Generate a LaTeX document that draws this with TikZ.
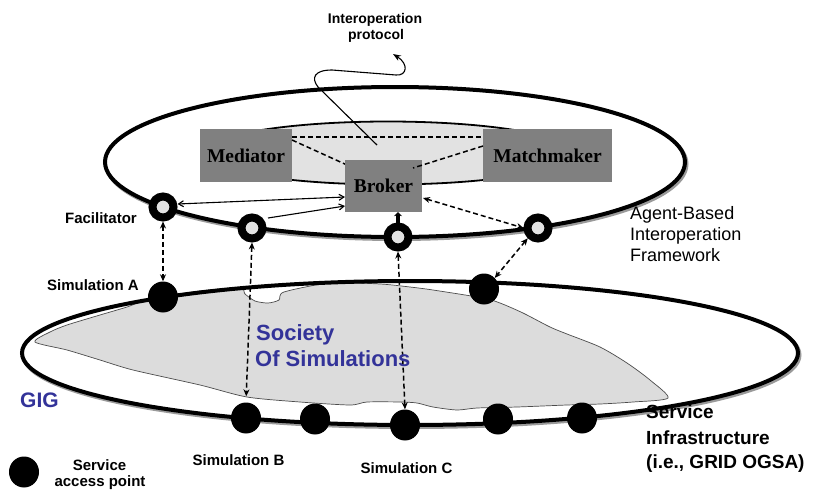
\documentclass[tikz,border=0pt]{standalone}
\usepackage{fontspec}
\newfontfamily\sansA{Liberation Sans}
\newfontfamily\serifT{Liberation Serif}
\usetikzlibrary{arrows.meta,shapes.geometric}
\definecolor{boxgray}{HTML}{808080}
\definecolor{lightfill}{HTML}{E2E2E2}
\definecolor{blobfill}{HTML}{DCDCDC}
\definecolor{socblue}{HTML}{333399}
\definecolor{shadowgray}{HTML}{9A9A9A}
\tikzset{
  agentbox/.style={fill=boxgray, inner sep=0pt, font=\serifT\bfseries\fontsize{19.5}{22}\selectfont},
  ring/.style={circle, draw=black, line width=8pt, fill=lightfill, minimum size=21pt, inner sep=0pt},
  sap/.style={ellipse, fill=black, minimum width=30pt, minimum height=31pt, inner sep=0pt},
  thicklip/.style={line width=4pt, draw=black},
  shadowlip/.style={line width=4pt, draw=shadowgray},
  dasharrow/.style={line width=1.5pt, dash pattern=on 5pt off 3pt, {Stealth[length=7pt,width=6pt]}-{Stealth[length=7pt,width=6pt]}},
  thinarrow/.style={line width=1.1pt},
  lbl/.style={font=\sansA\bfseries\fontsize{15}{17}\selectfont, inner sep=0pt},
  biglbl/.style={font=\sansA\fontsize{18}{21}\selectfont, inner sep=0pt},
  infra/.style={font=\sansA\bfseries\fontsize{19}{22}\selectfont, inner sep=0pt},
  soc/.style={font=\sansA\bfseries\fontsize{22}{26}\selectfont, text=socblue, inner sep=0pt},
  blob/.style={fill=blobfill, draw=black!70, line width=0.7pt}
}
\begin{document}
\begin{tikzpicture}[x=1pt,y=-1pt]
\useasboundingbox[fill=white] (0,0) rectangle (817,493);

% ---------- lower ellipse (service infrastructure) ----------
\draw[shadowlip] (411.5,355) ellipse [x radius=388, y radius=72];
\fill[white] (410,353) ellipse [x radius=388, y radius=72];
\draw[blob] plot[smooth cycle, tension=0.45] coordinates {
  (35,342) (50,332) (67,325) (100,315) (127,307) (150,299) (200,291) (240,288)
  (245,294) (255,301) (268,303) (279,300) (284,292) (330,283) (380,284)
  (410,287) (433,290) (483,298) (500,303) (523,313) (550,327) (567,334)
  (600,347) (627,363) (650,380) (668,398)
  (633,402) (600,404) (567,405) (517,407) (477,408) (457,410) (433,407)
  (417,403) (400,402) (367,402) (350,405) (300,402) (247,397) (200,385)
  (133,370) (100,360) (67,350)};
\draw[thicklip] (410,353) ellipse [x radius=388, y radius=72];

% ---------- upper ellipse (agent-based framework) ----------
\draw[shadowlip] (396.5,164) ellipse [x radius=290, y radius=75];
\draw[thicklip, fill=white] (395,162) ellipse [x radius=290, y radius=75];
\draw[line width=1.8pt, fill=lightfill] (388,153) ellipse [x radius=185, y radius=31.5];

% boxes
\node[agentbox, minimum width=92pt, minimum height=53pt] (med) at (246,155.5) {Mediator};
\node[agentbox, minimum width=129pt, minimum height=53pt] (mm) at (547.5,155.5) {Matchmaker};

% dashed links among agents
\coordinate (medR) at (292,137);
\coordinate (mmL) at (483,137);
\draw[line width=1.5pt, dash pattern=on 5pt off 3pt] (medR) -- (mmL);
\coordinate (medR2) at (292,140);
\coordinate (brkTL) at (347,165);
\draw[line width=1.5pt, dash pattern=on 5pt off 3pt] (medR2) -- (brkTL);
\coordinate (mmL2) at (483,146);
\coordinate (brkTR) at (413,168);

% interoperation protocol squiggle
\coordinate (proto0) at (377,145);
\coordinate (proto1) at (318,87);
\coordinate (proto2) at (332,70);
\coordinate (proto3) at (396,75);
\coordinate (proto4) at (393,54);
\draw[line width=1.1pt, -{Stealth[length=8pt,width=6pt]}] (proto0) -- (proto1)
   .. controls (311,78) and (314,70) .. (proto2) -- (proto3)
   .. controls (407,76) and (409,64) .. (proto4);

\node[agentbox, minimum width=77pt, minimum height=52pt] (brk) at (383.5,186) {Broker};
\draw[line width=1.5pt, dash pattern=on 5pt off 3pt] (mmL2) -- (brkTR);

% rings (facilitators)
\node[ring] (fac) at (163,207) {};
\node[ring] (c2) at (252,228) {};
\node[ring] (c3) at (398,237) {};
\node[ring] (c4) at (538,228) {};

% service access points
\node[sap] (simA) at (163,297) {};
\node[sap] (d2) at (484,289) {};
\node[sap] (simB) at (246,418) {};
\node[sap] (d4) at (315,419) {};
\node[sap] (simC) at (405,425) {};
\node[sap] (d6) at (498,419) {};
\node[sap] (d7) at (582,418) {};
\node[sap] (leg) at (24,472) {};

% solid links facilitators -> broker
\coordinate (brkL1) at (345,197);
\coordinate (brkL2) at (345,206);
\coordinate (c2R) at (268,218);
\draw[thinarrow, {Straight Barb[length=5pt,width=6pt]}-{Straight Barb[length=5pt,width=6pt]}] (fac.east |- 0,204) -- (brkL1);
\draw[thinarrow, -{Straight Barb[length=5pt,width=6pt]}] (c2R) -- (brkL2);

% broker <-> ring c3 stub
\draw[line width=3.5pt, -{Stealth[length=4pt,width=8pt]}] (c3.north) -- (c3.north |- brk.south);

% broker <-> ring c4
\coordinate (brkR) at (423,198);
\draw[dasharrow] (brkR) -- (c4.west);

% vertical / diagonal dashed links
\draw[dasharrow] (fac.south) -- (simA.north);
\draw[dasharrow, shorten >=6pt] (c2.south) -- (simB.north);
\draw[dasharrow] (c3.south) -- (simC.north);
\draw[dasharrow] (c4.south west) -- (d2.north east);

% ---------- texts ----------
\node[lbl, font=\sansA\bfseries\fontsize{14}{16}\selectfont, anchor=base] (t1) at (375,23) {Interoperation};
\node[lbl, font=\sansA\bfseries\fontsize{14}{16}\selectfont, anchor=base] (t2) at (376,39.5) {protocol};
\node[lbl, anchor=base east] (tfac) at (137,223) {Facilitator};
\node[lbl, anchor=base east] (tsimA) at (139,290) {Simulation A};
\node[biglbl, anchor=base west] (ab1) at (630,219) {Agent-Based};
\node[biglbl, anchor=base west] (ab2) at (630,240.5) {Interoperation};
\node[biglbl, anchor=base west] (ab3) at (630,261.5) {Framework};
\node[soc, anchor=base west] (s1) at (256,340) {Society};
\node[soc, anchor=base west] (s2) at (255,366) {Of Simulations};
\node[soc, font=\sansA\bfseries\fontsize{21}{24}\selectfont, anchor=base west] (gig) at (20,407) {GIG};
\node[infra, anchor=base west] (i1) at (646,418.5) {Service};
\node[infra, anchor=base west] (i2) at (646,444) {Infrastructure};
\node[infra, anchor=base west] (i3) at (646,468.5) {(i.e., GRID OGSA)};
\node[lbl, anchor=base] (tsimB) at (238.5,465) {Simulation B};
\node[lbl, anchor=base] (tsimC) at (406.5,473) {Simulation C};
\node[lbl, anchor=base] (sap1) at (99.5,470) {Service};
\node[lbl, anchor=base] (sap2) at (100,486) {access point};
\end{tikzpicture}
\end{document}
